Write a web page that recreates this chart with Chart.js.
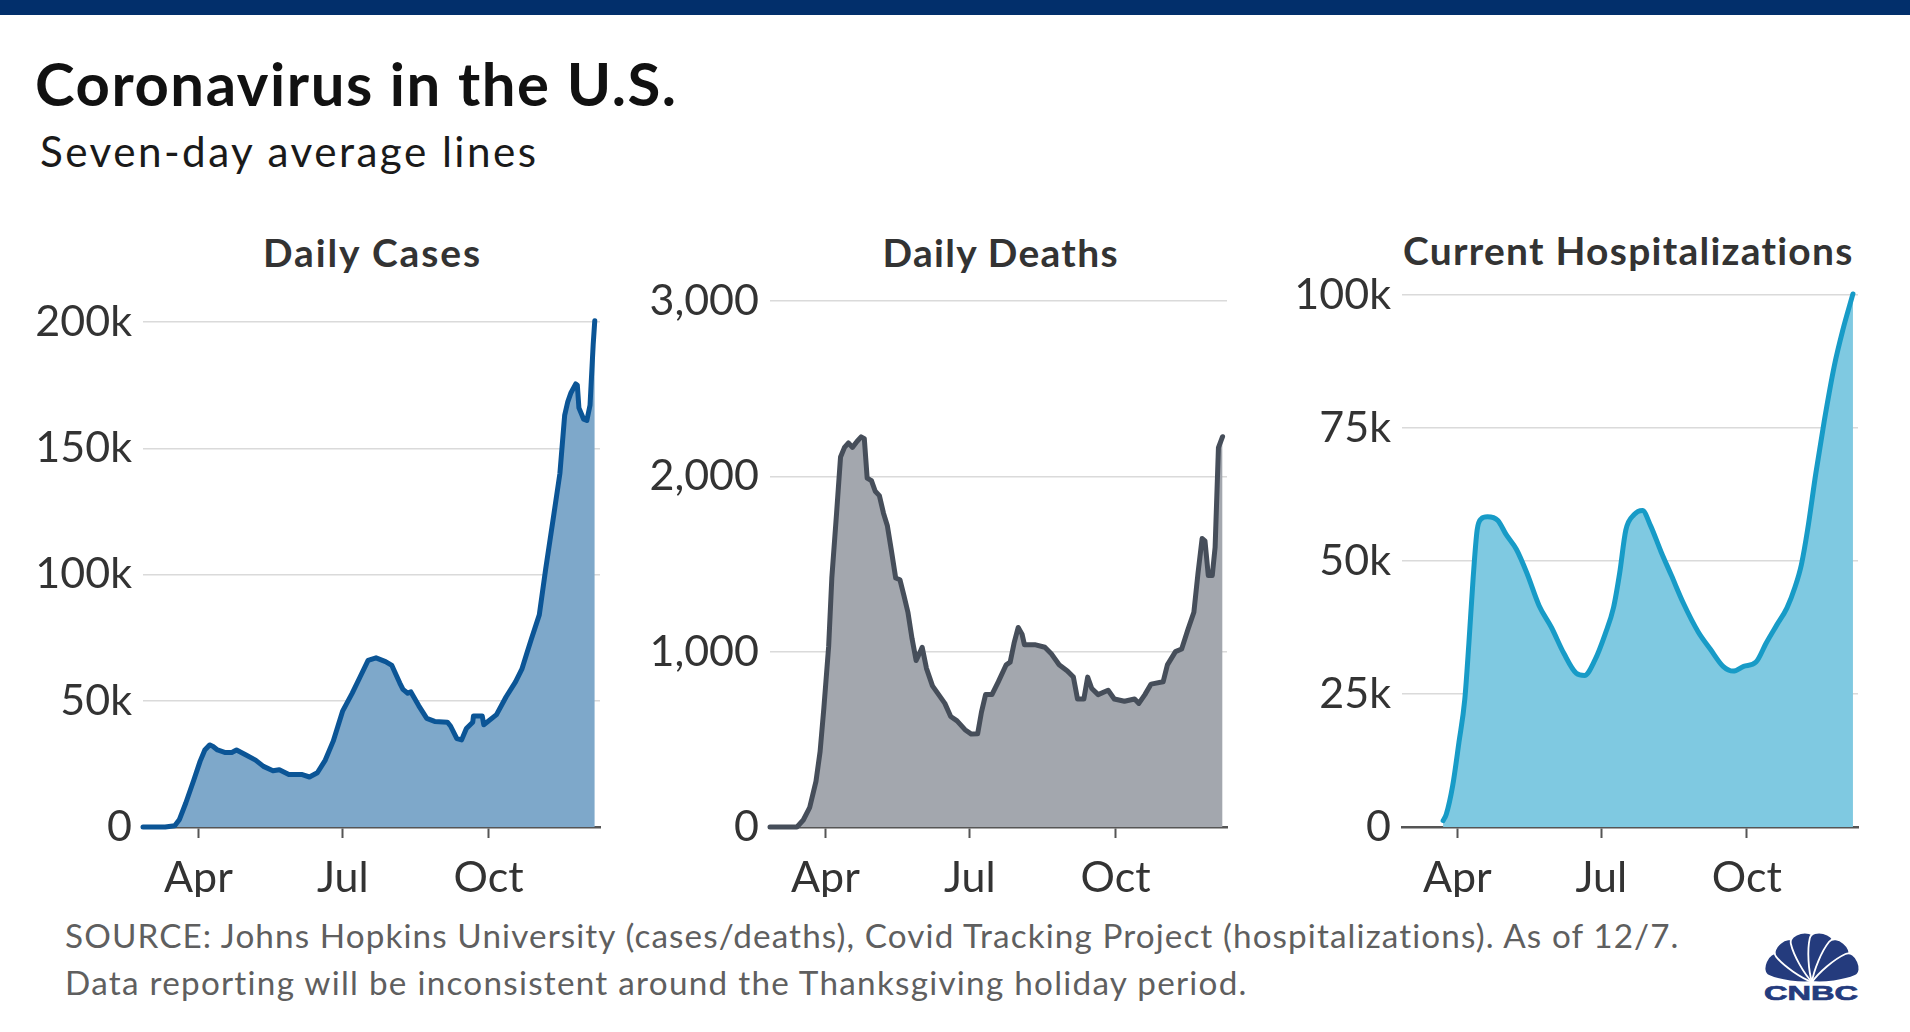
<!DOCTYPE html>
<html>
<head>
<meta charset="utf-8">
<title>Coronavirus in the U.S.</title>
<script src="https://cdn.jsdelivr.net/npm/chart.js@4.4.1/dist/chart.umd.min.js"></script>
<style>
  html, body { margin:0; padding:0; background:#fff; }
  body { width:1910px; height:1032px; position:relative; overflow:hidden; font-family: Lato, 'Open Sans', sans-serif; }
  #topbar { position:absolute; left:0; top:0; width:1910px; height:15px; background:#022f6b; }
  .txt { position:absolute; white-space:nowrap; line-height:1.2; margin:0; left:0; top:0; }
  canvas { position:absolute; }
</style>
</head>
<body>
<div id="topbar"></div>
<div class="txt" id="title" style="font-weight:700;font-size:57px;color:#111"><span class="t">Coronavirus in the U.S.</span></div>
<div class="txt" id="subtitle" style="font-size:33px;color:#1a1a1a"><span class="t">Seven-day average lines</span></div>
<div class="txt" id="t1" style="font-weight:700;font-size:33px;color:#333"><span class="t">Daily Cases</span></div>
<div class="txt" id="t2" style="font-weight:700;font-size:33px;color:#333"><span class="t">Daily Deaths</span></div>
<div class="txt" id="t3" style="font-weight:700;font-size:33px;color:#333"><span class="t">Current Hospitalizations</span></div>
<div class="txt" id="src1" style="font-size:32px;color:#5f5f5f"><span class="t">SOURCE: Johns Hopkins University (cases/deaths), Covid Tracking Project (hospitalizations). As of 12/7.</span></div>
<div class="txt" id="src2" style="font-size:32px;color:#5f5f5f"><span class="t">Data reporting will be inconsistent around the Thanksgiving holiday period.</span></div>

<canvas id="c1" width="592" height="615" style="left:18px;top:282px"></canvas>
<canvas id="c2" width="592" height="636" style="left:645px;top:261px"></canvas>
<canvas id="c3" width="591" height="642" style="left:1277px;top:255px"></canvas>

<svg id="logo" width="110" height="84" viewBox="0 0 110 84" style="position:absolute;left:1757px;top:922px">
  <g transform="translate(55,60)" fill="#243b7d" stroke="#fff" stroke-width="1.8">
    <path d="M0,0 C-6,-10 -12,-30 -12,-42 C-12,-53 12,-53 12,-42 C12,-30 6,-10 0,0Z" transform="rotate(-66)"/>
    <path d="M0,0 C-6,-10 -12,-30 -12,-42 C-12,-53 12,-53 12,-42 C12,-30 6,-10 0,0Z" transform="rotate(-39)"/>
    <path d="M0,0 C-6,-10 -12,-30 -12,-42 C-12,-53 12,-53 12,-42 C12,-30 6,-10 0,0Z" transform="rotate(-13)"/>
    <path d="M0,0 C-6,-10 -12,-30 -12,-42 C-12,-53 12,-53 12,-42 C12,-30 6,-10 0,0Z" transform="rotate(13)"/>
    <path d="M0,0 C-6,-10 -12,-30 -12,-42 C-12,-53 12,-53 12,-42 C12,-30 6,-10 0,0Z" transform="rotate(39)"/>
    <path d="M0,0 C-6,-10 -12,-30 -12,-42 C-12,-53 12,-53 12,-42 C12,-30 6,-10 0,0Z" transform="rotate(66)"/>
  </g>
  <text x="7" y="78" font-family="'Liberation Sans', Arial, sans-serif" font-weight="700" font-size="21" fill="#243b7d" stroke="#243b7d" stroke-width="0.7" textLength="94" lengthAdjust="spacingAndGlyphs">CNBC</text>
</svg>

<script>
// ---------------- data ----------------
// x values are day-of-year 2020 (Jan 1 = 0); Apr 1 = 91, Jul 1 = 182, Oct 1 = 274, Dec 7 = 341
const monthTickDays = [91, 182, 274];
const monthTickLabels = ['Apr', 'Jul', 'Oct'];

const casesDays = [56, 70, 76, 79, 83, 88, 92, 95, 98, 100, 103, 108, 112, 115, 121, 127, 132, 138, 142, 148,
  156, 161, 166, 171, 176, 182, 188, 193, 198, 203, 209, 213, 218, 220, 223, 225, 230, 235, 240, 248,
  250, 254, 257, 260, 264, 264.5, 270, 271, 279, 285, 291, 295, 298, 301, 306, 310, 315, 319, 322, 324,
  326, 329, 330, 331, 334, 336, 338, 340, 341];
const casesValues = [0, 0, 500, 3000, 9500, 18500, 26000, 30500, 32500, 32000, 30500, 29500, 29500, 30500, 28500, 26500, 24000, 22300, 22700, 20800,
  20800, 19800, 21500, 26500, 34000, 46000, 53000, 59500, 66000, 67000, 65500, 64000, 57000, 54500, 53000, 53500, 48000, 43000, 41800, 41500,
  40000, 35000, 34500, 39000, 41500, 44000, 44000, 40500, 44500, 51500, 57500, 62500, 68500, 74500, 84000, 102000, 123000, 140000, 163000, 168500,
  172000, 175500, 175000, 166000, 161500, 161000, 167000, 191000, 200500];
const casesTicks = [0, 50000, 100000, 150000, 200000];
const casesTickLabels = ['0', '50k', '100k', '150k', '200k'];

const deathsDays = [56, 73, 77, 81, 85, 87.6, 90, 93, 95, 98, 100.5, 103, 105.5, 108, 111, 113.5, 115.5, 117.3, 120, 122.4,
  125, 127.6, 130, 132.7, 135.3, 138, 140.5, 143, 145.6, 148.2, 150.8, 152, 154.7, 158.5, 162.4, 166.3, 170, 174, 179, 183,
  187, 189.4, 192, 196, 200, 205, 207.5, 210, 212.6, 215, 216.5, 223, 229.4, 233.3, 238.4, 243.6, 247.4, 250, 254, 256.4,
  259, 263, 269.3, 273.2, 279.6, 286, 288.7, 292.5, 296.4, 304, 306.7, 311.8, 315.7, 319.6, 323.4, 326, 328.6, 330.4, 332.5, 335,
  336.8, 338.9, 341.5];
const deathsValues = [0, 0, 40, 110, 260, 430, 680, 1030, 1420, 1790, 2110, 2165, 2190, 2165, 2200, 2225, 2215, 1990, 1975, 1915,
  1890, 1790, 1720, 1570, 1420, 1410, 1320, 1225, 1075, 950, 1000, 1025, 905, 805, 755, 705, 630, 605, 555, 530,
  532, 655, 755, 755, 828, 925, 940, 1050, 1138, 1100, 1040, 1040, 1025, 990, 925, 890, 855, 730, 730, 855,
  790, 755, 780, 730, 717, 730, 705, 755, 815, 828, 925, 1000, 1015, 1125, 1225, 1447, 1645, 1632, 1434, 1434,
  1595, 2164, 2226];
const deathsTicks = [0, 1000, 2000, 3000];
const deathsTickLabels = ['0', '1,000', '2,000', '3,000'];

const hospDays = [82, 84, 88, 92, 95.7, 98.3, 101, 103.5, 106, 110, 116.6, 121.8, 128.3, 135, 142.7, 150.5, 158.4, 166.2, 171.4, 178,
  184.5, 189.7, 193.6, 197.5, 202.7, 208, 213.2, 219.7, 226.3, 234, 243.2, 251, 259, 265.4, 272, 279.8, 286.3, 292.8, 299.4, 304.6,
  308.5, 312.4, 317.6, 322.9, 329.4, 334.6, 341.1];
const hospValues = [1200, 2400, 7700, 15900, 24000, 34600, 46900, 55800, 57900, 58300, 57600, 55000, 52200, 47700, 41600, 37500, 32600, 28900, 28500, 31400,
  36300, 41200, 47700, 55800, 58700, 59500, 56600, 51800, 47300, 42000, 36700, 33400, 30200, 29300, 30200, 31000, 34600, 37900, 41200, 45200,
  49300, 55800, 66400, 76200, 86800, 93300, 100200];
const hospTicks = [0, 25000, 50000, 75000, 100000];
const hospTickLabels = ['0', '25k', '50k', '75k', '100k'];

// ---------------- layout ----------------
const X_MIN = 56, X_MAX = 344.3;
const Y_AXIS_W = 125, X_AXIS_H = 70;

function buildChart(id, days, values, yTicks, yLabels, lineColor, fillColor, smooth) {
  const points = days.map((d, i) => ({ x: d, y: values[i] }));
  return new Chart(document.getElementById(id), {
    type: 'line',
    data: {
      datasets: [{
        data: points,
        borderColor: lineColor,
        backgroundColor: fillColor,
        borderWidth: 5,
        fill: 'origin',
        pointRadius: 0,
        pointHoverRadius: 0,
        tension: smooth ? 0.4 : 0,
        cubicInterpolationMode: smooth ? 'monotone' : 'default',
        borderJoinStyle: 'round',
        borderCapStyle: 'round',
        clip: false
      }]
    },
    options: {
      responsive: false,
      animation: false,
      devicePixelRatio: 1,
      events: [],
      layout: { padding: { top: 40, right: 10, left: 0, bottom: 0 } },
      plugins: { legend: { display: false }, tooltip: { enabled: false }, title: { display: false } },
      scales: {
        x: {
          type: 'linear', min: X_MIN, max: X_MAX,
          afterBuildTicks: s => { s.ticks = monthTickDays.map(v => ({ value: v })); },
          afterFit: s => { s.height = X_AXIS_H; },
          ticks: {
            autoSkip: false, maxRotation: 0, padding: 14, color: '#333',
            font: { size: 43, family: 'Lato' },
            callback: v => { const k = monthTickDays.indexOf(v); return k >= 0 ? monthTickLabels[k] : ''; }
          },
          grid: { display: true, drawOnChartArea: false, drawTicks: true, tickLength: 11, tickColor: '#555', tickWidth: 2 },
          border: { display: true, color: '#555', width: 2.5 }
        },
        y: {
          type: 'linear', min: 0, max: yTicks[yTicks.length - 1],
          afterBuildTicks: s => { s.ticks = yTicks.map(v => ({ value: v })); },
          afterFit: s => { s.width = Y_AXIS_W; },
          ticks: {
            padding: 11, color: '#333',
            font: { size: 43, family: 'Lato' },
            callback: (v, i) => yLabels[i]
          },
          grid: { color: '#dadada', lineWidth: 1.5, drawTicks: false },
          border: { display: false }
        }
      }
    }
  });
}

buildChart('c1', casesDays, casesValues, casesTicks, casesTickLabels, '#0b5596', '#7ea8ca', false);
buildChart('c2', deathsDays, deathsValues, deathsTicks, deathsTickLabels, '#464e5a', '#a3a7ae', false);
buildChart('c3', hospDays, hospValues, hospTicks, hospTickLabels, '#179bc7', '#7fc9e1', true);

// place HTML texts: baseline position, fitted width (font grows up to maxScale, rest by letter-spacing)
const textLayout = [
  { id: 'title', left: 35, baseline: 106, width: 641, size: 57, maxScale: 1.05 },
  { id: 'subtitle', left: 40, baseline: 167, width: 496, size: 33, maxScale: 1.28 },
  { id: 't1', center: 371.5, baseline: 267, width: 217, size: 33, maxScale: 1.18 },
  { id: 't2', center: 1000, baseline: 267, width: 235, size: 33, maxScale: 1.18 },
  { id: 't3', center: 1628, baseline: 265, width: 450, size: 33, maxScale: 1.18 },
  { id: 'src1', left: 65, baseline: 948, width: 1614, size: 32, maxScale: 1.04 },
  { id: 'src2', left: 65, baseline: 995, width: 1182, size: 32, maxScale: 1.04 }
];
function placeTexts() {
  textLayout.forEach(t => {
    const el = document.getElementById(t.id);
    const span = el.querySelector('.t');
    let marker = el.querySelector('.m');
    if (!marker) {
      marker = document.createElement('span');
      marker.className = 'm';
      marker.style.cssText = 'display:inline-block;width:0;height:0;vertical-align:baseline';
      el.appendChild(marker);
    }
    el.style.top = '0px';
    el.style.fontSize = t.size + 'px';
    span.style.letterSpacing = '0px';
    let w = span.getBoundingClientRect().width;
    const scale = Math.min(t.maxScale, t.width / w);
    const size = t.size * scale;
    el.style.fontSize = size.toFixed(2) + 'px';
    w = span.getBoundingClientRect().width;
    const n = span.textContent.length;
    const ls = Math.max(0, (t.width - w) / (n - 1));
    span.style.letterSpacing = ls.toFixed(3) + 'px';
    const baseOff = marker.getBoundingClientRect().top - el.getBoundingClientRect().top;
    el.style.top = (t.baseline - baseOff) + 'px';
    const left = t.center !== undefined ? t.center - t.width / 2 : t.left;
    el.style.left = left + 'px';
  });
}
placeTexts();
if (document.fonts && document.fonts.ready) document.fonts.ready.then(placeTexts);
</script>
</body>
</html>
